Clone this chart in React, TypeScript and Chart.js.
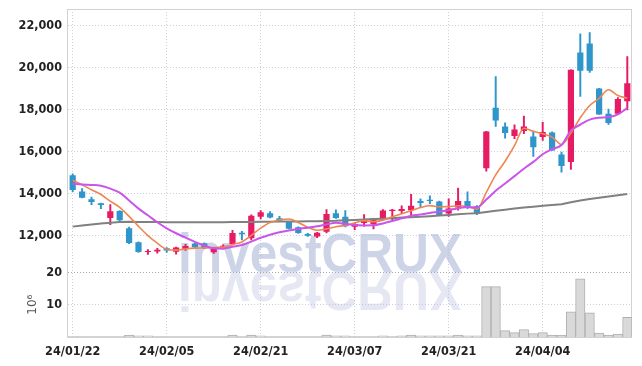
import { useEffect, useRef } from "react";
import { Chart, registerables } from "chart.js";
Chart.register(...registerables);

const dates = [
  "24/01/22","24/01/23","24/01/24","24/01/25","24/01/26","24/01/29","24/01/30","24/01/31","24/02/01","24/02/02",
  "24/02/05","24/02/06","24/02/07","24/02/08","24/02/13","24/02/14","24/02/15","24/02/16","24/02/19","24/02/20",
  "24/02/21","24/02/22","24/02/23","24/02/26","24/02/27","24/02/28","24/02/29","24/03/04","24/03/05","24/03/06",
  "24/03/07","24/03/08","24/03/11","24/03/12","24/03/13","24/03/14","24/03/15","24/03/18","24/03/19","24/03/20",
  "24/03/21","24/03/22","24/03/25","24/03/26","24/03/27","24/03/28","24/03/29","24/04/01","24/04/02","24/04/03",
  "24/04/04","24/04/05","24/04/08","24/04/09","24/04/11","24/04/12","24/04/15","24/04/16","24/04/17","24/04/18",
];
const tickLabels = ["24/01/22", "24/02/05", "24/02/21", "24/03/07", "24/03/21", "24/04/04"];
const priceTicks = [12000, 14000, 16000, 18000, 20000, 22000];
const volumeTicks = [10, 20];

const opens = [14880,14110,13730,13540,12840,13175,12350,11680,11220,11240,11400,11230,11370,11630,11640,11210,11470,11600,12140,11880,12900,13070,12830,12670,12400,12080,11960,12190,13070,12900,12420,12600,12540,12760,13180,13180,13210,13650,13710,13630,13050,13340,13650,13400,15220,18100,17210,16750,16990,16730,16700,16920,15870,15510,20730,21160,19020,17810,17810,18410];
const highs = [14950,14240,13840,13550,13480,13190,12410,11700,11330,11400,11430,11450,11580,11650,11660,11400,11560,12250,12200,12990,13200,13150,12920,12680,12420,12110,12160,13240,13230,13200,12600,13000,12830,13240,13250,13420,13970,13750,13900,13650,13750,14270,14090,13430,16970,19590,17380,17290,17700,16940,17410,16950,15990,19910,21620,21680,19030,18040,18580,20540];
const lows = [14100,13800,13480,13290,12520,12640,11620,11200,11110,11160,11200,11120,11300,11400,11380,11150,11420,11560,11800,11800,12800,12850,12700,12320,12100,11960,11900,12130,12820,12420,12290,12450,12320,12740,12760,13050,12860,13330,13530,12970,12920,13210,13290,13000,15080,17210,16650,16620,16860,15780,16540,16060,15030,15160,18640,19790,17780,17300,17780,18000];
const closes = [14180,13810,13600,13460,13160,12730,11650,11220,11260,11330,11290,11440,11510,11450,11400,11380,11520,12130,12070,12950,13120,12860,12720,12330,12120,11990,12140,13030,12840,12450,12560,12700,12790,13200,13240,13270,13430,13560,13650,12970,13300,13650,13340,13050,16970,17490,16890,17060,17210,16220,16940,16060,15320,19910,19870,19870,17780,17370,18520,19270];

const ma5 = [14640,14420,14190,13960,13642,13352,12920,12444,12004,11638,11350,11308,11366,11404,11418,11436,11452,11576,11700,12010,12358,12626,12744,12796,12630,12404,12260,12322,12424,12490,12604,12716,12668,12740,12898,13040,13186,13340,13430,13376,13382,13426,13382,13262,14062,14900,15548,16292,17124,16974,16864,16698,16350,16890,17620,18206,18550,18960,18682,18562];
const ma10 = [14480,14440,14420,14380,14240,14050,13680,13290,12970,12640,12351,12114,11905,11704,11528,11393,11380,11471,11552,11714,11897,12039,12160,12248,12320,12381,12443,12533,12610,12560,12504,12488,12495,12582,12694,12822,12951,13004,13085,13137,13211,13306,13361,13346,13719,14141,14487,14837,15193,15518,15882,16123,16321,17007,17297,17535,17624,17655,17786,18091];
const ma60 = [12430,12480,12530,12580,12620,12650,12660,12655,12650,12645,12640,12640,12640,12640,12640,12640,12640,12645,12650,12655,12660,12665,12670,12675,12680,12685,12690,12700,12710,12730,12750,12770,12790,12810,12830,12860,12880,12900,12930,12960,12990,13020,13050,13070,13130,13190,13240,13290,13340,13380,13420,13460,13500,13590,13680,13750,13810,13870,13930,13990];

// volume in millions (10^6)
const volumes = [0.1,0.1,0.1,0.1,0.1,0.1,0.56,0.34,0.34,0.1,0.1,0.1,0.1,0.1,0.1,0.1,0.1,0.56,0.1,0.56,0.34,0.1,0.1,0.1,0.1,0.1,0.1,0.56,0.34,0.34,0.1,0.1,0.1,0.34,0.1,0.34,0.56,0.34,0.34,0.34,0.34,0.6,0.34,0.34,15.6,15.6,1.97,1.35,2.27,1.03,1.35,0.6,0.5,7.8,18.0,7.5,1.2,0.6,0.9,6.1];

const PINK = "#e61b63";
const BLUE = "#2e96ca";
const ORANGE = "#ef8552";
const PURPLE = "#c955ea";
const GRAY = "#808080";
const GRID = "rgba(185,185,212,0.7)";
const FONT = "'DejaVu Sans Condensed', 'Liberation Sans Narrow', 'Roboto', sans-serif";
const TICK_FONT = { family: FONT, size: 12.5, weight: "bold" };

export default function App() {
  const ref = useRef<HTMLCanvasElement>(null);
  useEffect(() => {
    const canvas = ref.current!;
    const colors = closes.map((c, i) => (c >= opens[i] ? PINK : BLUE));

    const watermark = {
      id: "watermark",
      beforeDraw(chart: any) {
        const { ctx } = chart;
        const yv = chart.scales.yVol;
        const base = yv.top;
        ctx.save();
        ctx.font = "bold 55px 'Liberation Sans', Arial, sans-serif";
        const text = "investCRUX";
        const w = ctx.measureText(text).width;
        ctx.translate(320, base);
        ctx.scale(284 / w, 1);
        ctx.textAlign = "center";
        ctx.textBaseline = "alphabetic";
        ctx.fillStyle = "rgb(206,212,232)";
        ctx.fillText(text, 0, 0);
        ctx.scale(1, -1);
        ctx.fillStyle = "rgb(229,232,243)";
        ctx.fillText(text, 0, 0);
        ctx.restore();
      },
    };
    const frame = {
      id: "frame",
      beforeDatasetsDraw(chart: any) {
        const { ctx, chartArea: a } = chart;
        ctx.save();
        ctx.strokeStyle = "#d2d2d2";
        ctx.lineWidth = 1;
        ctx.strokeRect(Math.round(a.left) - 0.5, Math.round(a.top) + 0.5, Math.round(a.right - a.left), Math.round(a.bottom - a.top));
        ctx.restore();
      },
    };

    const yFit = (w: number) => (s: any) => {
      s.width = w;
      s.paddingTop = 0;
      s.paddingBottom = 0;
    };

    const chart = new Chart(canvas, {
      type: "bar",
      data: {
        labels: dates,
        datasets: [
          { type: "line", label: "MA10", data: ma10, borderColor: PURPLE, borderWidth: 2, pointRadius: 0, cubicInterpolationMode: "monotone", yAxisID: "y", order: 0 } as any,
          { type: "line", label: "MA5", data: ma5, borderColor: ORANGE, borderWidth: 1.6, pointRadius: 0, cubicInterpolationMode: "monotone", yAxisID: "y", order: 1 } as any,
          { type: "line", label: "MA60", data: ma60, borderColor: GRAY, borderWidth: 2, pointRadius: 0, tension: 0, yAxisID: "y", order: 2 } as any,
          { type: "bar", label: "body", data: opens.map((o, i) => [o, closes[i]]), backgroundColor: colors, barPercentage: 0.66, categoryPercentage: 1, grouped: false, minBarLength: 1, yAxisID: "y", order: 3 } as any,
          { type: "bar", label: "wick", data: lows.map((l, i) => [l, highs[i]]), backgroundColor: colors, barThickness: 1.3, grouped: false, yAxisID: "y", order: 4 } as any,
          { type: "bar", label: "volume", data: volumes, backgroundColor: "rgb(217,217,217)", borderColor: "rgb(175,175,175)", borderWidth: 1, barPercentage: 1, categoryPercentage: 1, grouped: false, yAxisID: "yVol", order: 5 } as any,
        ],
      },
      options: {
        responsive: false,
        animation: false,
        layout: { padding: { left: 10, right: 10, top: 9, bottom: 0 } },
        plugins: { legend: { display: false }, tooltip: { enabled: false } },
        scales: {
          x: {
            type: "category",
            offset: true,
            grid: { offset: false, color: GRID, drawTicks: false },
            border: { display: false, dash: [1, 2] },
            ticks: {
              autoSkip: false,
              maxRotation: 0,
              padding: 7,
              color: "#222",
              font: TICK_FONT,
              callback: (_v: any, i: number) => (tickLabels.includes(dates[i]) ? dates[i] : null),
            },
            afterFit: (s: any) => {
              s.height = 29;
              s.paddingLeft = 0;
              s.paddingRight = 0;
            },
          },
          yVol: {
            position: "left",
            stack: "main",
            stackWeight: 1,
            min: 0,
            max: 20,
            grid: { color: (c: any) => (c.tick && c.tick.value === 20 ? "#a8a8a8" : GRID), drawTicks: false },
            border: { display: false, dash: [1, 2] },
            ticks: {
              autoSkip: false,
              padding: 6,
              color: "#222",
              font: TICK_FONT,
              callback: (v: any) => String(v),
            },
            afterBuildTicks: (s: any) => {
              s.ticks = volumeTicks.map((v) => ({ value: v }));
            },
            title: { display: true, text: "10⁶", color: "#555", font: { family: "'DejaVu Sans', sans-serif", size: 12 }, padding: { top: 16, bottom: 4 } },
            afterFit: yFit(58),
          },
          y: {
            position: "left",
            stack: "main",
            stackWeight: 4.08,
            min: 10245,
            max: 22810,
            grid: { color: GRID, drawTicks: false },
            border: { display: false, dash: [1, 2] },
            ticks: {
              autoSkip: false,
              padding: 6,
              color: "#222",
              font: TICK_FONT,
              callback: (v: any) => Number(v).toLocaleString("en-US"),
            },
            afterBuildTicks: (s: any) => {
              s.ticks = priceTicks.map((v) => ({ value: v }));
            },
            afterFit: yFit(58),
          },
        } as any,
      },
      plugins: [watermark, frame],
    });
    return () => chart.destroy();
  }, []);
  return (
    <div style={{ position: "fixed", left: 0, top: 0, width: 642, height: 366, background: "#fff" }}>
      <canvas ref={ref} width={642} height={366} style={{ display: "block" }} />
    </div>
  );
}
